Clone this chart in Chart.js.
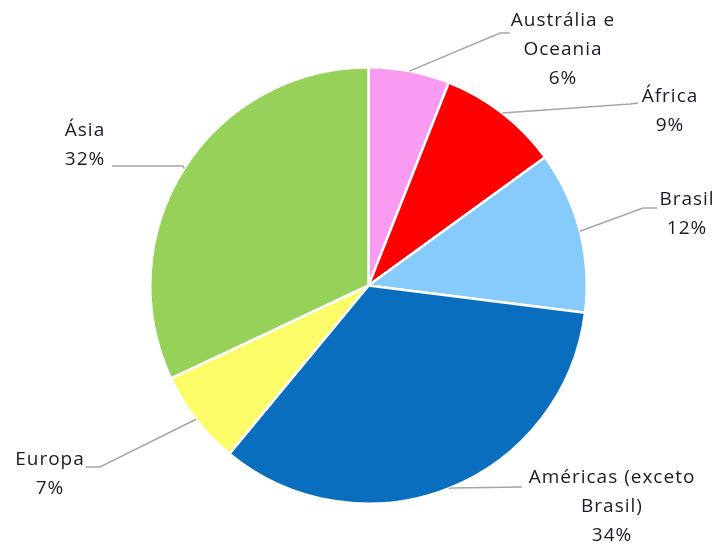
<!DOCTYPE html>
<html>
<head>
<meta charset="utf-8">
<script src="https://cdn.jsdelivr.net/npm/chart.js@4"></script>
<style>
  html, body { margin: 0; padding: 0; background: #fff; }
  #wrap { width: 721px; height: 550px; }
</style>
</head>
<body>
<div id="wrap"><canvas id="myChart" width="721" height="550"></canvas></div>
<script>
const ctx = document.getElementById('myChart').getContext('2d');

const regions = ['Austrália e Oceania', 'África', 'Brasil', 'Américas (exceto Brasil)', 'Europa', 'Ásia'];
const shares = [6, 9, 12, 34, 7, 32];
const sliceColors = ['#FA9BF2', '#FF0000', '#87CBFD', '#0A6EBF', '#FCFC68', '#96D25A'];

// label text lines (name wrapped as in the layout), percent added last
const labelLines = [
    ['Austrália e', 'Oceania'],
    ['África'],
    ['Brasil'],
    ['Américas (exceto', 'Brasil)'],
    ['Europa'],
    ['Ásia'],
];

// leader line: elbow point, end point; text block: center x, first line y
const leaders = [
    { elbow: [500, 33], end: [510, 33], tx: 563, ty: 21 },
    { elbow: [630, 104], end: [638, 103], tx: 670, ty: 97 },
    { elbow: [643, 208], end: [657, 208], tx: 687, ty: 200 },
    { elbow: [452, 488], end: [522, 487], tx: 612, ty: 478 },
    { elbow: [100, 467], end: [86, 467], tx: 50, ty: 460 },
    { elbow: [183, 166], end: [112, 166], tx: 85, ty: 131 },
];

const leaderLabels = {
    id: 'leaderLabels',
    afterDatasetsDraw(chart) {
        const c = chart.ctx;
        const arcs = chart.getDatasetMeta(0).data;
        c.save();
        arcs.forEach((arc, i) => {
            const p = arc.getProps(['x', 'y', 'startAngle', 'endAngle', 'outerRadius'], true);
            const mid = (p.startAngle + p.endAngle) / 2;
            const sx = p.x + Math.cos(mid) * p.outerRadius;
            const sy = p.y + Math.sin(mid) * p.outerRadius;
            const L = leaders[i];
            c.strokeStyle = '#A6A6A6';
            c.lineWidth = 1.5;
            c.beginPath();
            c.moveTo(sx, sy);
            c.lineTo(L.elbow[0], L.elbow[1]);
            c.lineTo(L.end[0], L.end[1]);
            c.stroke();

            const lines = labelLines[i].concat([shares[i] + '%']);
            c.fillStyle = '#1A1A28';
            c.font = '500 19px "Open Sans", sans-serif';
            c.letterSpacing = '1px';
            c.textAlign = 'center';
            c.textBaseline = 'middle';
            lines.forEach((t, k) => c.fillText(t, L.tx, L.ty + k * 29));
        });
        c.restore();
    }
};

const data = {
    labels: regions,
    datasets: [{
        data: shares,
        backgroundColor: sliceColors,
        borderColor: '#ffffff',
        borderWidth: 2.5,
    }],
};

const config = {
    type: 'pie',
    data: data,
    options: {
        responsive: false,
        animation: false,
        layout: { padding: { top: 66, bottom: 45, left: 149, right: 133 } },
        plugins: {
            legend: { display: false },
            tooltip: { enabled: false },
        },
    },
    plugins: [leaderLabels],
};

const myChart = new Chart(ctx, config);
</script>
</body>
</html>
